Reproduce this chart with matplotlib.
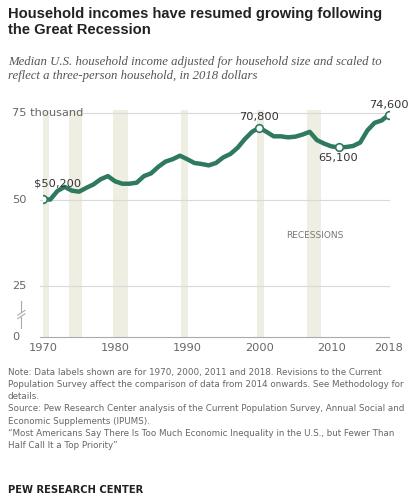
import matplotlib
matplotlib.use("Agg")
import matplotlib.pyplot as plt
import numpy as np

years = list(range(1970, 2019))
income = [50.2, 50.0, 52.5, 53.7, 52.6, 52.3, 53.4, 54.4, 55.9, 56.8, 55.3, 54.6, 54.6, 54.9, 56.8, 57.6, 59.5, 61.0, 61.7, 62.7, 61.7, 60.6, 60.3, 59.9, 60.6, 62.2, 63.2, 65.0, 67.5, 69.6, 70.8, 69.6, 68.3, 68.3, 68.0, 68.2, 68.8, 69.6, 67.2, 66.2, 65.4, 65.1, 65.2, 65.5, 66.5, 70.0, 72.2, 72.9, 74.6]
recessions = [(1969.6, 1970.8), (1973.6, 1975.4), (1979.7, 1981.8), (1989.2, 1990.1), (1999.7, 2000.6), (2006.6, 2008.6)]
labels = {1970: "$50,200", 2000: "70,800", 2011: "65,100", 2018: "74,600"}
xticks = [1970, 1980, 1990, 2000, 2010, 2018]

ZERO = 10.3  # broken-axis display position of 0
fig = plt.figure(figsize=(4.2, 5.01), dpi=100)
ax = fig.add_axes([43/420, 1-337/501, (389-43)/420, (337-105)/501])
ax.set_xlim(1970, 2018)
ax.set_ylim(ZERO, ZERO + (337-105)/86.5*25)
for a, b in recessions:
    ax.axvspan(a, b, ymin=0, ymax=(76-ZERO)/(ax.get_ylim()[1]-ZERO), color="#efeee3", lw=0, zorder=0)
for v in [25, 50]:
    ax.plot([1969.6, 2018], [v, v], color="#d9d9d9", lw=0.8, zorder=1, clip_on=False)
ax.plot([1975.6, 2018], [75, 75], color="#d9d9d9", lw=0.8, zorder=1, clip_on=False)
ax.plot([1969.6, 2018], [ZERO, ZERO], color="#aaaaaa", lw=0.8, zorder=1, clip_on=False)
ax.plot(years, income, color="#2f7a5f", lw=3.2, solid_capstyle="round", solid_joinstyle="round", zorder=3)
for yr in labels:
    v = income[years.index(yr)]
    ax.plot(yr, v, "o", ms=5.5, mfc="white", mec="#2f7a5f", mew=1.2, zorder=4)
fs = 8.2
ax.text(1968.8, 53.2, labels[1970], ha="left", va="bottom", fontsize=fs, color="#333333")
ax.text(2000, 72.3, labels[2000], ha="center", va="bottom", fontsize=fs, color="#333333")
ax.text(2011, 63.5, labels[2011], ha="center", va="top", fontsize=fs, color="#333333")
ax.text(2018, 76.0, labels[2018], ha="center", va="bottom", fontsize=fs, color="#333333")
ax.text(2007.7, 39.5, "RECESSIONS", ha="center", va="center", fontsize=6.5, color="#777777")
for v, t in [(75, "75 thousand"), (50, "50"), (25, "25"), (ZERO, "0")]:
    ax.annotate(t, xy=(0, v), xycoords=("figure fraction", "data"), xytext=(12, 0),
                textcoords="offset pixels", ha="left", va="center", fontsize=fs, color="#666666")
# axis break symbol
bx = 1967.0
ax.plot([bx, bx], [13.0, 16.0], color="#aaaaaa", lw=0.8, clip_on=False)
ax.plot([bx, bx], [17.6, 20.6], color="#aaaaaa", lw=0.8, clip_on=False)
ax.plot([bx-0.5, bx+0.5], [15.6, 17.0], color="#aaaaaa", lw=0.8, clip_on=False)
ax.plot([bx-0.5, bx+0.5], [16.6, 18.0], color="#aaaaaa", lw=0.8, clip_on=False)
ax.set_xticks(xticks)
ax.set_xticklabels([str(x) for x in xticks], fontsize=fs, color="#666666")
ax.tick_params(axis="x", length=0, pad=4)
ax.set_yticks([])
for s in ax.spines.values():
    s.set_visible(False)
ax.patch.set_alpha(0)

fig.text(8/420, 1-7/501, "Household incomes have resumed growing following\nthe Great Recession",
         ha="left", va="top", fontsize=10.6, fontweight="bold", family="Liberation Sans", color="#222222", linespacing=1.2)
fig.text(8/420, 1-56/501, "Median U.S. household income adjusted for household size and scaled to\nreflect a three-person household, in 2018 dollars",
         ha="left", va="top", fontsize=9.2, style="italic", family="Liberation Serif", color="#555555", linespacing=1.2)
note = ("Note: Data labels shown are for 1970, 2000, 2011 and 2018. Revisions to the Current\n"
        "Population Survey affect the comparison of data from 2014 onwards. See Methodology for\n"
        "details.\n"
        "Source: Pew Research Center analysis of the Current Population Survey, Annual Social and\n"
        "Economic Supplements (IPUMS).\n"
        "\u201cMost Americans Say There Is Too Much Economic Inequality in the U.S., but Fewer Than\n"
        "Half Call It a Top Priority\u201d")
fig.text(8/420, 1-368/501, note, ha="left", va="top", fontsize=6.3, color="#666666", linespacing=1.45)
fig.text(8/420, 1-485/501, "PEW RESEARCH CENTER", ha="left", va="top", fontsize=7.2, fontweight="bold", color="#222222")
fig.savefig("out.png", dpi=100)
